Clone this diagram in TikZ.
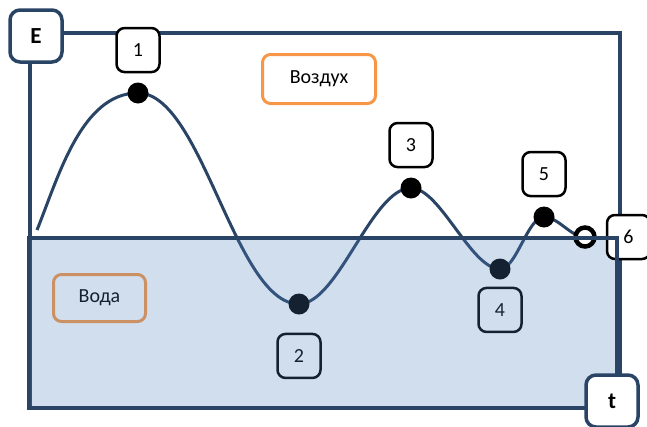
\documentclass[tikz,border=0pt]{standalone}
\usepackage{fontspec}
\setmainfont{Carlito}
\usetikzlibrary{positioning}
\definecolor{lineblue}{RGB}{42,68,102}
\definecolor{airorange}{RGB}{247,150,70}
\definecolor{waterblue}{RGB}{79,129,189}
\tikzset{
    numbox/.style={draw=black, line width=2.5pt, rounded corners=8pt, fill=white,
        minimum width=43pt, minimum height=44pt, inner sep=0pt,
        font=\fontsize{20}{24}\selectfont},
    axisbox/.style={draw=lineblue, line width=3.5pt, rounded corners=10pt, fill=white,
        minimum size=52pt, inner sep=0pt, font=\fontsize{23}{26}\selectfont\bfseries},
    zonebox/.style={draw=airorange, line width=3pt, rounded corners=8pt, inner sep=0pt,
        font=\fontsize{20}{24}\selectfont},
    dot/.style={circle, fill=black, minimum size=21pt, inner sep=0pt},
}

\begin{document}
\begin{tikzpicture}[x=1pt, y=1pt]
            \useasboundingbox (0,0) rectangle (647,-426);

            % air frame
            \draw[lineblue, line width=3.5pt] (30,-33) rectangle (620,-408);

            \coordinate (s) at (37,-230);
            \foreach \n\x\y in {1/138/93, 2/299/304, 3/411/188, 4/500/269, 5/544/217, 6/585/237} {
                \coordinate (p\n) at (\x,-\y);
            }

            \draw[lineblue, line width=3pt, looseness=0.62] (s) to[out=68, in=180, looseness=0.85] (p1)
                to[out=0, in=180] (p2) to[out=0, in=180] (p3)
                to[out=0, in=180] (p4) to[out=0, in=180] (p5)
                to[out=0, in=180, looseness=0.8] (p6);

            \foreach \n in {1,...,5} {
                \node[dot] (d\n) at (p\n) {};
            }

            \foreach \n\gap in {1/9pt, 3/9pt, 5/9pt} {
                \node[numbox] (n\n) [above=\gap of d\n] {\n};
            }
            \foreach \n\gap in {2/18pt, 4/7pt} {
                \node[numbox] (n\n) [below=\gap of d\n] {\n};
            }

            \node[zonebox, minimum width=113pt, minimum height=49pt] (air) at (319,-79) {Воздух};
            \node[zonebox, minimum width=92pt, minimum height=47pt] (water) at (99.5,-298) {Вода};

            % water layer
            \fill[waterblue, fill opacity=0.26] (29,-238) rectangle (617,-408);

            \node[circle, draw=black, fill=white, line width=4.5pt, minimum size=19pt, inner sep=0pt] (d6) at (p6) {};
            \node[numbox] (n6) [right=9pt of d6] {6};

            \draw[lineblue, line width=3.5pt] (29,-238) rectangle (617,-408);

            \node[axisbox] (E) at (36,-36) {E};
            \node[axisbox] (t) at (612,-401) {t};
        \end{tikzpicture}
\end{document}
